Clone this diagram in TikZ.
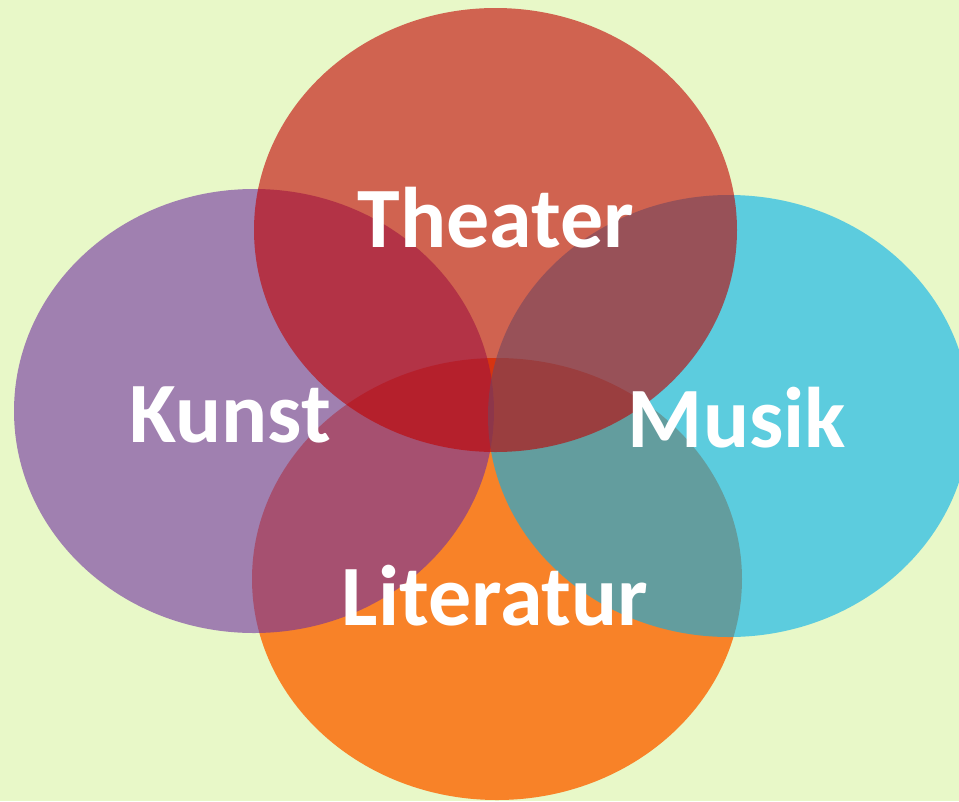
\documentclass[tikz,border=0pt]{standalone}
\usepackage{fontspec}
\setmainfont{Carlito}
\definecolor{Bg}{HTML}{E8F8C8}
\definecolor{Rot}{HTML}{C00000}
\definecolor{Lila}{HTML}{7030A0}
\definecolor{Blau}{HTML}{00B0EE}
\definecolor{Orange}{HTML}{F88228}
\tikzset{
  label/.style={text=white,font=\fontsize{86}{86}\selectfont\bfseries,anchor=base,inner sep=0pt}
}

\begin{document}
\begin{tikzpicture}[x=1pt,y=-1pt]
  % Background
  \fill[Bg] (0,0) rectangle (959,801);
  \useasboundingbox (0,0) rectangle (959,801);
  \clip (0,0) rectangle (959,801);

  % Literatur (bottom)
  \fill[Orange] (497,579) ellipse [x radius=245,y radius=221];

  % Kunst (left)
  \fill[Lila,opacity=0.6] (254,411) ellipse [x radius=240,y radius=222];

  % Musik (right)
  \fill[Blau,opacity=0.6] (729,416) ellipse [x radius=241,y radius=221];

  % Theater (top)
  \fill[Rot,opacity=0.6] (495.5,230) ellipse [x radius=241.5,y radius=222];

  % Labels
  \node[label] (theater) at (496,247) {Theater};
  \node[label] (kunst) at (230,442) {Kunst};
  \node[label] (musik) at (737,447) {Musik};
  \node[label] (literatur) at (495,625) {Literatur};
\end{tikzpicture}
\end{document}
